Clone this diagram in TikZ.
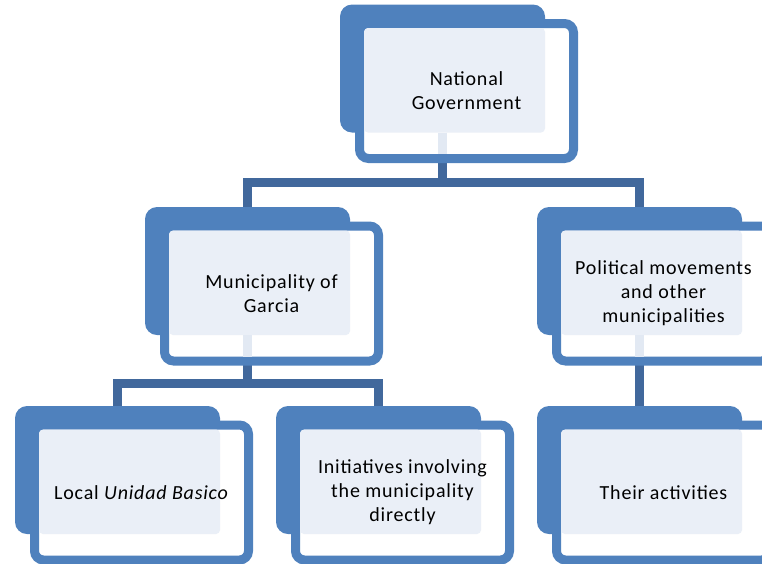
\documentclass[tikz,border=0pt]{standalone}
\usepackage{fontspec}
\setmainfont{Carlito}[LetterSpace=4]
\usetikzlibrary{calc,backgrounds}

\definecolor{boxblue}{RGB}{79,129,189}
\definecolor{paleblue}{RGB}{234,239,247}
\definecolor{linkblue}{RGB}{65,104,156}
\definecolor{stubblue}{RGB}{226,233,243}

% one organisational unit: blue back plate, white framed card, pale text panel
\newcommand\orgunit[3]{%
  \node[backbox] (b#1) at (#2) {};
  \node[frontbox] (f#1) at ($(b#1.center)+(24,22.5)$) {};
  \fill[paleblue, rounded corners=4pt] ($(f#1.north west)+(4.5,4.5)$) rectangle (b#1.south east);
  \node[caption] (t#1) at (f#1.center) {#3};
}

\begin{document}
\begin{tikzpicture}[x=1pt, y=-1pt,
  backbox/.style={fill=boxblue, rounded corners=12pt, minimum width=205pt,
    minimum height=128pt, inner sep=0pt, outer sep=0pt},
  frontbox/.style={draw=boxblue, fill=white, line width=9pt, rounded corners=9pt,
    minimum width=214pt, minimum height=135pt, inner sep=0pt, outer sep=0pt},
  caption/.style={font=\fontsize{20}{24}\selectfont, align=center, inner sep=0pt},
  link/.style={draw=linkblue, line width=9pt},
  stub/.style={draw=stubblue, line width=9pt}]

  \useasboundingbox (0,0) rectangle (762,563);
  \clip (0,0) rectangle (762,563);

  % top level
  \orgunit{1}{442.5,68.5}{National\\Government}
  % second level
  \orgunit{2l}{247.5,271}{Municipality of\\Garcia}
  \orgunit{2r}{639.5,271}{Political movements\\and other\\municipalities}
  % third level
  \orgunit{3a}{117.5,470}{Local \textit{Unidad Basico}}
  \orgunit{3b}{378.5,470}{Initiatives involving\\the municipality\\directly}
  \orgunit{3c}{639.5,470}{Their activities}

  % faint traces of the links inside the parent cards
  \draw[stub] (b1.south) -- ($(b1.south |- f1.south)+(0,-4.5)$);
  \draw[stub] (b2l.south) -- ($(b2l.south |- f2l.south)+(0,-4.5)$);
  \draw[stub] (b2r.south) -- ($(b2r.south |- f2r.south)+(0,-4.5)$);

  % connectors
  \begin{scope}[on background layer]
    \coordinate (j1) at ($(b1.south |- f1.south)+(0,23.5)$);
    \coordinate (j2) at ($(b2l.south |- f2l.south)+(0,22)$);
    \draw[link] (b1.south |- f1.south) -- (j1);
    \draw[link] (b2l.north) |- (j1) -| (b2r.north);
    \draw[link] (b2l.south |- f2l.south) -- (j2);
    \draw[link] (b3a.north) |- (j2) -| (b3b.north);
    \draw[link] (b2r.south |- f2r.south) -- (b3c.north);
  \end{scope}
\end{tikzpicture}
\end{document}
